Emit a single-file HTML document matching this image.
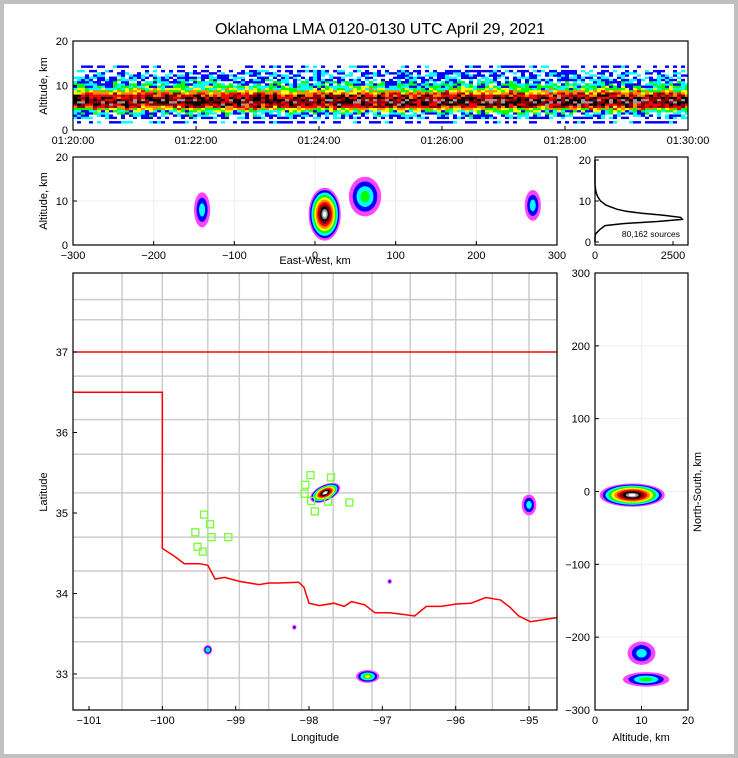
<!DOCTYPE html>
<html><head><meta charset="utf-8"><style>
html,body{margin:0;padding:0;background:#c0c0c0;}
#wrap{position:absolute;left:4px;top:4px;width:730px;height:750px;background:#fff;}
svg{position:absolute;left:0;top:0;font-family:"Liberation Sans","DejaVu Sans",sans-serif;}
</style></head><body>
<div id="wrap"></div>
<svg id="fig" width="738" height="758">
<text x="380" y="34" font-size="16" text-anchor="middle">Oklahoma LMA 0120-0130 UTC April 29, 2021</text>
</svg>
<script>
// ---- data ----
const densityColors = ['#ff44ff','#0000ff','#00ffff','#00ff00','#ffff00','#ff8800','#ff0000','#880000','#000000','#999999','#ffffff'];
// time-height mean density level by altitude (km)
const profAlt = [1.5,2.5,3.0,3.5,4.0,4.5,5.0,5.5,6.0,6.5,7.0,7.5,8.0,8.5,9.0,9.5,10.0,10.5,11.0,11.5,12.0,12.5,13.0,14.0];
const profLvl = [0.3,0.8,1.0,1.4,2.6,4.2,6.0,7.0,7.6,7.6,7.0,6.4,5.4,4.0,3.0,2.4,1.8,1.4,1.1,0.9,0.8,0.6,0.5,0.2];
const timeTicks = ['01:20:00','01:22:00','01:24:00','01:26:00','01:28:00','01:30:00'];
// EW-altitude clusters
const ewX = [-140,12,62,270];
const ewZ = [8,7,11,9];
const ewRx = [10,20,20,10];
const ewRz = [4,6,4.5,3.5];
const ewPeak = [2,10,3,2];
// altitude-NS clusters
const nsZ = [8,10,11];
const nsY = [-5,-222,-258];
const nsRz = [7,3,5];
const nsRy = [16,16,10];
const nsPeak = [10,2,3];
// map clusters (lon, lat)
const mapLon = [-97.78,-95.0,-99.38,-97.2,-98.2,-96.9];
const mapLat = [35.25,35.1,33.3,32.97,33.58,34.15];
const mapRx = [0.22,0.1,0.06,0.16,0.03,0.03];
const mapRy = [0.1,0.13,0.06,0.08,0.03,0.03];
const mapPeak = [10,2,3,4,1,1];
// LMA stations
const staLon = [-97.98,-98.05,-98.06,-97.97,-97.92,-97.7,-97.74,-97.45,-99.43,-99.35,-99.55,-99.33,-99.52,-99.45,-99.1];
const staLat = [35.47,35.35,35.24,35.15,35.02,35.44,35.14,35.13,34.98,34.86,34.76,34.7,34.58,34.52,34.7];
// histogram (altitude km -> sources)
const histAlt = [0,1,2,3,4,4.5,5,5.5,6,6.5,7,7.5,8,9,10,11,12,13,14,20];
const histCnt = [0,0,20,150,320,900,2000,2800,2750,2200,1500,1000,700,350,180,90,40,15,0,0];
// Red River / state border (lon, lat)
const rrLon = [-100,-99.83,-99.7,-99.49,-99.38,-99.28,-99.15,-98.95,-98.68,-98.55,-98.41,-98.14,-98.07,-98.0,-97.86,-97.66,-97.52,-97.42,-97.24,-97.1,-96.9,-96.72,-96.56,-96.4,-96.2,-95.99,-95.79,-95.59,-95.39,-95.26,-95.14,-94.98,-94.62];
const rrLat = [34.56,34.46,34.37,34.37,34.35,34.18,34.2,34.15,34.11,34.13,34.13,34.14,34.08,33.88,33.85,33.88,33.84,33.9,33.86,33.76,33.76,33.74,33.72,33.84,33.84,33.87,33.88,33.95,33.92,33.83,33.72,33.65,33.7];
// county grid
const countyLon = [-100.55,-100.0,-99.38,-98.95,-98.55,-98.1,-97.67,-97.14,-96.62,-96.0,-95.5,-95.0];
const countyLat = [37.65,37.4,36.7,36.16,35.73,35.25,34.7,34.28,33.7,33.4,32.95];

// ---- helpers ----
const NS='http://www.w3.org/2000/svg';
const svg=document.getElementById('fig');
function el(tag,attrs,parent){const e=document.createElementNS(NS,tag);for(const k in attrs)e.setAttribute(k,attrs[k]);(parent||svg).appendChild(e);return e;}
function lin(d0,d1,r0,r1){return v=>r0+(v-d0)*(r1-r0)/(d1-d0);}
function frame(x,y,w,h,name){const r=el('rect',{x:x,y:y,width:w,height:h,fill:'none',stroke:'#000','stroke-width':1.2});}
function txt(x,y,s,anchor,size,name,rot){const t=el('text',{x:x,y:y,'font-size':size||11,'text-anchor':anchor||'middle'});t.textContent=s;if(rot)t.setAttribute('transform','rotate(-90 '+x+' '+y+')');return t;}
function clip(id,x,y,w,h){const d=el('clipPath',{id:id});el('rect',{x:x,y:y,width:w,height:h},d);}
function blob(g,cx,cy,rx,ry,peak){for(let i=0;i<=peak;i++){const f=1-i/(peak+1.2);const e=el('ellipse',{cx:cx,cy:cy,rx:Math.max(rx*f,1),ry:Math.max(ry*f,1),fill:densityColors[i]},g);}}
function hash(a,b){let h=(a*374761393+b*668265263)|0;h=(h^(h>>>13))*1274126177|0;return ((h^(h>>>16))>>>0)/4294967296;}

// ---- top panel: time-height ----
{const X0=73,X1=688,Y0=41,Y1=130;const ty=lin(0,20,Y1,Y0);
 clip('c1',X0,Y0,X1-X0,Y1-Y0);const g=el('g',{'clip-path':'url(#c1)'});
 const cw=4;let ci=0;
 for(let x=X0;x<X1;x+=cw,ci++){
  for(let j=0;j<profAlt.length;j++){
   const h=hash(ci,j);let lv=profLvl[j]+(h-0.5)*3.2;
   if(lv<0.7){if(hash(j,ci+7)<0.75)continue;lv=1;}
   const L=Math.max(1,Math.min(9,Math.round(lv)));
   const r=el('rect',{x:x,y:ty(profAlt[j]+0.5),width:cw,height:ty(0)-ty(0.5)+0.2,fill:densityColors[L]},g);
   }}
 frame(X0,Y0,X1-X0,Y1-Y0,'time-height-axes');
 [0,10,20].forEach(v=>{txt(X0-5,ty(v)+4,String(v),'end',11,'y-tick-label');el('line',{x1:X0,x2:X0+4,y1:ty(v),y2:ty(v),stroke:'#000'});});
 const tx=lin(0,5,X0,X1);timeTicks.forEach((s,i)=>{txt(tx(i),ty(0)+14,s,'middle',11,'time-tick-label');el('line',{x1:tx(i),x2:tx(i),y1:Y1,y2:Y1-4,stroke:'#000'});});
 txt(47,86,'Altitude, km','middle',11,'y-axis-title',true);}

// ---- middle panel: EW vs altitude ----
{const X0=73,X1=557,Y0=157,Y1=245;const tx=lin(-300,300,X0,X1),ty=lin(0,20,Y1,Y0);
 clip('c2',X0,Y0,X1-X0,Y1-Y0);const g=el('g',{'clip-path':'url(#c2)'});
 [-200,-100,0,100,200].forEach(v=>el('line',{x1:tx(v),x2:tx(v),y1:Y0,y2:Y1,stroke:'#eee'},g));el('line',{x1:X0,x2:X1,y1:ty(10),y2:ty(10),stroke:'#eee'},g);
 for(let i=0;i<ewX.length;i++)blob(g,tx(ewX[i]),ty(ewZ[i]),ewRx[i]*(X1-X0)/600,ewRz[i]*(Y1-Y0)/20,ewPeak[i]);
 frame(X0,Y0,X1-X0,Y1-Y0,'ew-altitude-axes');
 [0,10,20].forEach(v=>{txt(X0-5,ty(v)+4,String(v),'end',11,'y-tick-label');el('line',{x1:X0,x2:X0+4,y1:ty(v),y2:ty(v),stroke:'#000'});});
 [-300,-200,-100,0,100,200,300].forEach(v=>{txt(tx(v),Y1+14,String(v).replace('-','\u2212'),'middle',11,'x-tick-label');el('line',{x1:tx(v),x2:tx(v),y1:Y1,y2:Y1-4,stroke:'#000'});});
 txt(315,264,'East-West, km','middle',11,'x-axis-title');txt(47,201,'Altitude, km','middle',11,'y-axis-title',true);}

// ---- histogram ----
{const X0=595,X1=688,Y0=157,Y1=245;const tx=lin(0,2500,X0,673),ty=lin(0,20,Y1-3,Y0+3);
 let d='';for(let i=0;i<histAlt.length;i++)d+=(i?'L':'M')+tx(histCnt[i]).toFixed(1)+' '+ty(histAlt[i]).toFixed(1);
 const p=el('path',{d:d,fill:'none',stroke:'#000','stroke-width':1.5});
 frame(X0,Y0,X1-X0,Y1-Y0,'histogram-axes');
 [0,10,20].forEach(v=>{txt(X0-4,ty(v)+4,String(v),'end',11,'y-tick-label');el('line',{x1:X0,x2:X0+4,y1:ty(v),y2:ty(v),stroke:'#000'});});
 [0,2500].forEach(v=>{txt(tx(v),Y1+14,String(v),'middle',11,'x-tick-label');el('line',{x1:tx(v),x2:tx(v),y1:Y1,y2:Y1-4,stroke:'#000'});});
 txt(680,237,'80,162 sources','end',8.5,'source-count-label');}

// ---- map ----
{const X0=73,X1=557,Y0=273,Y1=710;const tx=lin(-101,-95,89,529),ty=lin(37,33,352,674);
 clip('c3',X0,Y0,X1-X0,Y1-Y0);const g=el('g',{'clip-path':'url(#c3)'});
 countyLon.forEach(v=>{const l=el('line',{x1:tx(v),x2:tx(v),y1:Y0,y2:Y1,stroke:'#cccccc','stroke-width':1.5},g);});
 countyLat.forEach(v=>{const l=el('line',{x1:X0,x2:X1,y1:ty(v),y2:ty(v),stroke:'#cccccc','stroke-width':1.5},g);});
 let d='M'+X0+' '+ty(37)+'L'+X1+' '+ty(37)+'M'+X0+' '+ty(36.5)+'L'+tx(-100)+' '+ty(36.5);
 for(let i=0;i<rrLon.length;i++)d+='L'+tx(rrLon[i]).toFixed(1)+' '+ty(rrLat[i]).toFixed(1);
 const b=el('path',{d:d,fill:'none',stroke:'#ff0000','stroke-width':1.5},g);
 for(let i=0;i<mapLon.length;i++){const gg=el('g',{transform:i===0?'rotate(-25 '+tx(mapLon[i])+' '+ty(mapLat[i])+')':''},g);blob(gg,tx(mapLon[i]),ty(mapLat[i]),mapRx[i]*73.3,mapRy[i]*80.5,mapPeak[i]);}
 for(let i=0;i<staLon.length;i++){const s=el('rect',{x:tx(staLon[i])-3.5,y:ty(staLat[i])-3.5,width:7,height:7,fill:'none',stroke:'#77ff33','stroke-width':1.3},g);}
 frame(X0,Y0,X1-X0,Y1-Y0,'map-axes');
 [33,34,35,36,37].forEach(v=>{txt(X0-5,ty(v)+4,String(v),'end',11,'lat-tick-label');el('line',{x1:X0,x2:X0+4,y1:ty(v),y2:ty(v),stroke:'#000'});});
 [-101,-100,-99,-98,-97,-96,-95].forEach(v=>{txt(tx(v),Y1+14,String(v).replace('-','\u2212'),'middle',11,'lon-tick-label');el('line',{x1:tx(v),x2:tx(v),y1:Y1,y2:Y1-4,stroke:'#000'});});
 txt(315,741,'Longitude','middle',11,'x-axis-title');txt(47,492,'Latitude','middle',11,'y-axis-title',true);}

// ---- right panel: altitude vs NS ----
{const X0=595,X1=688,Y0=273,Y1=710;const tx=lin(0,20,X0,X1),ty=lin(-300,300,Y1,Y0);
 clip('c4',X0,Y0,X1-X0,Y1-Y0);const g=el('g',{'clip-path':'url(#c4)'});
 el('line',{x1:tx(10),x2:tx(10),y1:Y0,y2:Y1,stroke:'#eee'},g);[-200,-100,0,100,200].forEach(v=>el('line',{x1:X0,x2:X1,y1:ty(v),y2:ty(v),stroke:'#eee'},g));
 for(let i=0;i<nsZ.length;i++)blob(g,tx(nsZ[i]),ty(nsY[i]),nsRz[i]*(X1-X0)/20,nsRy[i]*(Y1-Y0)/600,nsPeak[i]);
 frame(X0,Y0,X1-X0,Y1-Y0,'altitude-ns-axes');
 [-300,-200,-100,0,100,200,300].forEach(v=>{txt(X0-5,ty(v)+4,String(v).replace('-','\u2212'),'end',11,'ns-tick-label');el('line',{x1:X0,x2:X0+4,y1:ty(v),y2:ty(v),stroke:'#000'});});
 [0,10,20].forEach(v=>{txt(tx(v),Y1+14,String(v),'middle',11,'x-tick-label');el('line',{x1:tx(v),x2:tx(v),y1:Y1,y2:Y1-4,stroke:'#000'});});
 txt(641,741,'Altitude, km','middle',11,'x-axis-title');txt(701,492,'North-South, km','middle',11,'y-axis-title',true);}
</script>
</body></html>
